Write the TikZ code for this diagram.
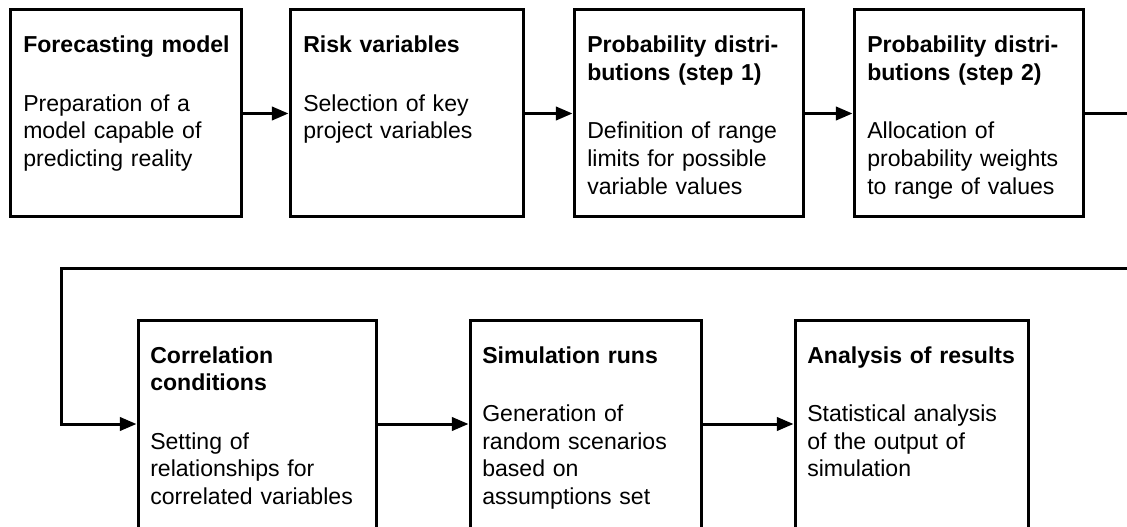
\documentclass[tikz,border=0pt]{standalone}
\usepackage{fontspec}
\setmainfont{Liberation Sans}
\usetikzlibrary{arrows.meta,fit}
\begin{document}
\begin{tikzpicture}[x=0.75pt,y=-0.75pt,
  box/.style={draw, line width=2.25pt, inner sep=0pt, rectangle},
  txt/.style={anchor=base west, inner sep=0pt, align=left, text width=170pt,
    font=\fontsize{17.3pt}{20.85pt}\selectfont},
  conn/.style={line width=2.25pt},
  arr/.style={conn, -{Triangle[length=12.5pt,width=10pt]}}]
\useasboundingbox (0,0) rectangle (1127,527);
\clip (0,0) rectangle (1127,527);
% row 1
\node[box, fit={(10,10) (241,217)}] (b1) {};
\node[box, fit={(290,10) (523,217)}] (b2) {};
\node[box, fit={(574,10) (803,217)}] (b3) {};
\node[box, fit={(854,10) (1083,217)}] (b4) {};
% row 2
\node[box, fit={(138,320) (376,528)}] (b5) {};
\node[box, fit={(470,320) (701,528)}] (b6) {};
\node[box, fit={(795,320) (1028,528)}] (b7) {};
% texts
\node[txt] (t1) at (23,53) {\textbf{Forecasting model}\\[22.8pt]Preparation of a\\model capable of\\predicting reality};
\node[txt] (t2) at (303,53) {\textbf{Risk variables}\\[22.8pt]Selection of key\\project variables};
\node[txt] (t3) at (587,53) {\textbf{Probability distri-}\\\textbf{butions (step 1)}\\[22.8pt]Definition of range\\limits for possible\\variable values};
\node[txt] (t4) at (867,53) {\textbf{Probability distri-}\\\textbf{butions (step 2)}\\[22.8pt]Allocation of\\probability weights\\to range of values};
\node[txt] (t5) at (150,363) {\textbf{Correlation}\\\textbf{conditions}\\[22.8pt]Setting of\\relationships for\\correlated variables};
\node[txt] (t6) at (482,363) {\textbf{Simulation runs}\\[22.8pt]Generation of\\random scenarios\\based on\\assumptions set};
\node[txt] (t7) at (807,363) {\textbf{Analysis of results}\\[22.8pt]Statistical analysis\\of the output of\\simulation};
% connectors
\coordinate (r1) at (1132,113.5);
\coordinate (r2) at (1132,268);
\coordinate (c1) at (61,268);
\draw[arr] (b1) -- (b2);
\draw[arr] (b2) -- (b3);
\draw[arr] (b3) -- (b4);
\draw[conn] (b4.east) -- (r1);
\draw[arr] (r2) -- (c1) |- (b5.west);
\draw[arr] (b5) -- (b6);
\draw[arr] (b6) -- (b7);
\end{tikzpicture}
\end{document}
